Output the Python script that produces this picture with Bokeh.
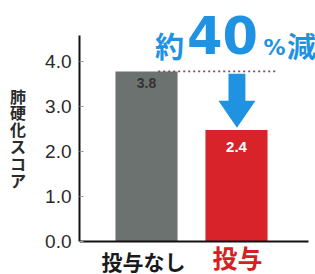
from bokeh.plotting import figure
from bokeh.models import Range1d, Label, FixedTicker, PrintfTickFormatter
from bokeh.embed import file_html
from bokeh.resources import INLINE

# ---- data ----
categories = ["投与なし", "投与"]
values = [3.78, 2.48]
value_labels = ["3.8", "2.4"]
y_ticks = [0, 1, 2, 3, 4]
y_title = "肺硬化スコア"
headline = ["約", "40", "%", "減"]

bar_colors = ["#6c726f", "#d8232a"]
blue = "#1f93e2"
xs = [0, 1]

W, H = 315, 274
X0, Y0, SX, SY = 146, 241, 90, 45   # pixel of x=0 / y=0, pixels per unit


def dx(px):
    return (px - X0) / SX


def dy(py):
    return (Y0 - py) / SY


p = figure(width=W, height=H, output_backend="svg", toolbar_location=None,
           x_range=Range1d(dx(79), dx(W)), y_range=Range1d(dy(H), dy(0)),
           x_axis_location=None,
           min_border_left=79, min_border_right=0, min_border_top=0, min_border_bottom=0)
p.outline_line_color = None
p.grid.visible = False
p.background_fill_color = "#ffffff"
p.border_fill_color = "#ffffff"

p.vbar(x=xs, top=values, width=0.69, color=bar_colors, line_color=None)

# y axis
ya = p.yaxis[0]
ya.bounds = (0, dy(35))
ya.ticker = FixedTicker(ticks=y_ticks)
ya.formatter = PrintfTickFormatter(format="%.1f")
ya.axis_line_color = "#111111"
ya.axis_line_width = 2
ya.major_tick_in = 4
ya.major_tick_out = 0
ya.major_tick_line_color = "#999999"
ya.minor_tick_line_color = None
ya.major_label_text_font = "Liberation Sans"
ya.major_label_text_font_size = "19px"
ya.major_label_text_color = "#2a2a2a"
ya.major_label_standoff = 8
ya.axis_label = "\n".join(y_title)
ya.axis_label_orientation = "horizontal"
ya.axis_label_text_font = "Noto Sans CJK JP"
ya.axis_label_text_font_style = "bold"
ya.axis_label_text_font_size = "16px"
ya.axis_label_text_line_height = 0.7
ya.axis_label_text_color = "#2a2a2a"
ya.axis_label_standoff = 16

# baseline (x axis line)
p.line(x=[dx(79), dx(308)], y=[0, 0], line_color="#111111", line_width=2)

# dotted reference line at first bar's level
p.line(x=[xs[0] + 0.13, xs[1] + 0.43], y=[values[0], values[0]],
       line_color="#7d4a6c", line_width=1.8, line_dash="2 3")

# arrow
tip = values[1] + 0.05
head_base = tip + 0.6
top = values[0] - 0.05
cx = xs[1] + 0.005
sw, hw = 0.094, 0.206
p.patch(x=[cx - sw, cx + sw, cx + sw, cx + hw, cx, cx - hw, cx - sw],
        y=[top, top, head_base, head_base, tip, head_base, head_base],
        color=blue, line_color=None)

# bar value labels
p.add_layout(Label(x=xs[0], y=values[0], y_offset=-12, text=value_labels[0],
                   text_align="center", text_baseline="middle",
                   text_font="Liberation Sans", text_font_style="bold",
                   text_font_size="14px", text_color="#333333"))
p.add_layout(Label(x=xs[1], y=values[1], y_offset=-17, text=value_labels[1],
                   text_align="center", text_baseline="middle",
                   text_font="Liberation Sans", text_font_style="bold",
                   text_font_size="15px", text_color="#ffffff"))

# headline 約40%減
hl = [(169, 44, "Noto Sans CJK JP", "29px"), (222, 34, "DejaVu Sans", "51px"),
      (274, 47, "DejaVu Sans", "22px"), (301, 44, "Noto Sans CJK JP", "29px")]
for t, (hx, hy, f, s) in zip(headline, hl):
    p.add_layout(Label(x=dx(hx), y=dy(hy), text=t, text_align="center", text_baseline="middle",
                       text_font=f, text_font_style="bold", text_font_size=s,
                       text_color=blue))

# category labels under axis
cat_styles = [(143, 260, "#1a1a1a", "21px"), (237, 256, "#d42222", "25px")]
for cat, (cxp, cyp, c, s) in zip(categories, cat_styles):
    p.add_layout(Label(x=dx(cxp), y=dy(cyp), text=cat,
                       text_align="center", text_baseline="middle",
                       text_font="Noto Sans CJK JP", text_font_style="bold",
                       text_font_size=s, text_color=c))

open("out.html", "w").write(file_html(p, INLINE))
